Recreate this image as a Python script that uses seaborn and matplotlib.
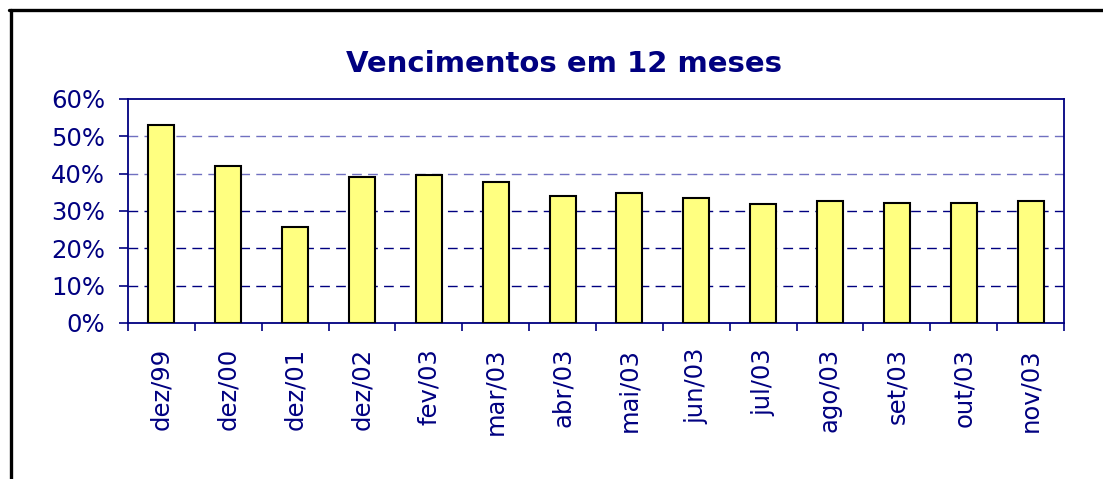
import matplotlib
matplotlib.use("Agg")
import matplotlib.pyplot as plt
import seaborn as sns
import pandas as pd
from matplotlib.lines import Line2D
from matplotlib.ticker import FixedLocator

# values (% of debt maturing in 12 months)
periods = ["dez/99", "dez/00", "dez/01", "dez/02", "fev/03", "mar/03", "abr/03",
           "mai/03", "jun/03", "jul/03", "ago/03", "set/03", "out/03", "nov/03"]
share = [53.0, 42.1, 25.7, 39.1, 39.6, 37.8, 34.0,
         34.7, 33.4, 31.8, 32.6, 32.2, 32.2, 32.6]
y_ticks = [0, 10, 20, 30, 40, 50, 60]
y_tick_labels = ["0%", "10%", "20%", "30%", "40%", "50%", "60%"]
title = "Vencimentos em 12 meses"

navy = "#000080"

df = pd.DataFrame({"periodo": periods, "valor": share})

sns.set_style("white")
plt.rcParams["font.family"] = ["DejaVu Sans"]

fig = plt.figure(figsize=(11.03, 4.79), dpi=100)
ax = fig.add_axes([0.11605, 0.32568, 0.84859, 0.46764])

sns.barplot(data=df, x="periodo", y="valor", color="#FFFF80", saturation=1,
            edgecolor="black", linewidth=1.5, width=0.39, ax=ax, zorder=3)

# dashed gridlines
for v in [10, 20, 30, 40, 50]:
    c = navy if v <= 30 else "#7070C0"
    ax.axhline(v, color=c, linewidth=1.0, dashes=(7, 4.5), zorder=1)

ax.set_xlim(-0.5, len(periods) - 0.5)
ax.set_ylim(0, 60)
ax.set_yticks(y_ticks)
ax.set_yticklabels(y_tick_labels)
ax.set_xlabel("")
ax.set_ylabel("")

for s in ax.spines.values():
    s.set_visible(True)
    s.set_color(navy)
    s.set_linewidth(1.3)

ax.tick_params(axis="y", direction="out", length=6.5, width=1.2, color=navy,
               labelcolor=navy, labelsize=17.5, pad=10, left=True)
ax.tick_params(axis="x", which="major", length=0, labelcolor=navy,
               labelsize=17.5, pad=18, rotation=90, bottom=True)
ax.xaxis.set_minor_locator(FixedLocator([i - 0.5 for i in range(len(periods) + 1)]))
ax.tick_params(axis="x", which="minor", direction="out", length=6, width=1.2,
               color=navy, bottom=True)
for lab in ax.get_xticklabels():
    lab.set_verticalalignment("top")

fig.text(0.511, 0.867, title, ha="center", va="center", fontsize=21,
         fontweight="bold", color=navy)

# outer chart frame (only left and top edges visible)
fig.add_artist(Line2D([0.0096, 0.0096], [0, 0.9798], transform=fig.transFigure,
                      color="black", linewidth=2.4))
fig.add_artist(Line2D([0.0085, 1.0], [0.9798, 0.9798], transform=fig.transFigure,
                      color="black", linewidth=2.4))

fig.savefig("out.png", dpi=100, facecolor="white")
